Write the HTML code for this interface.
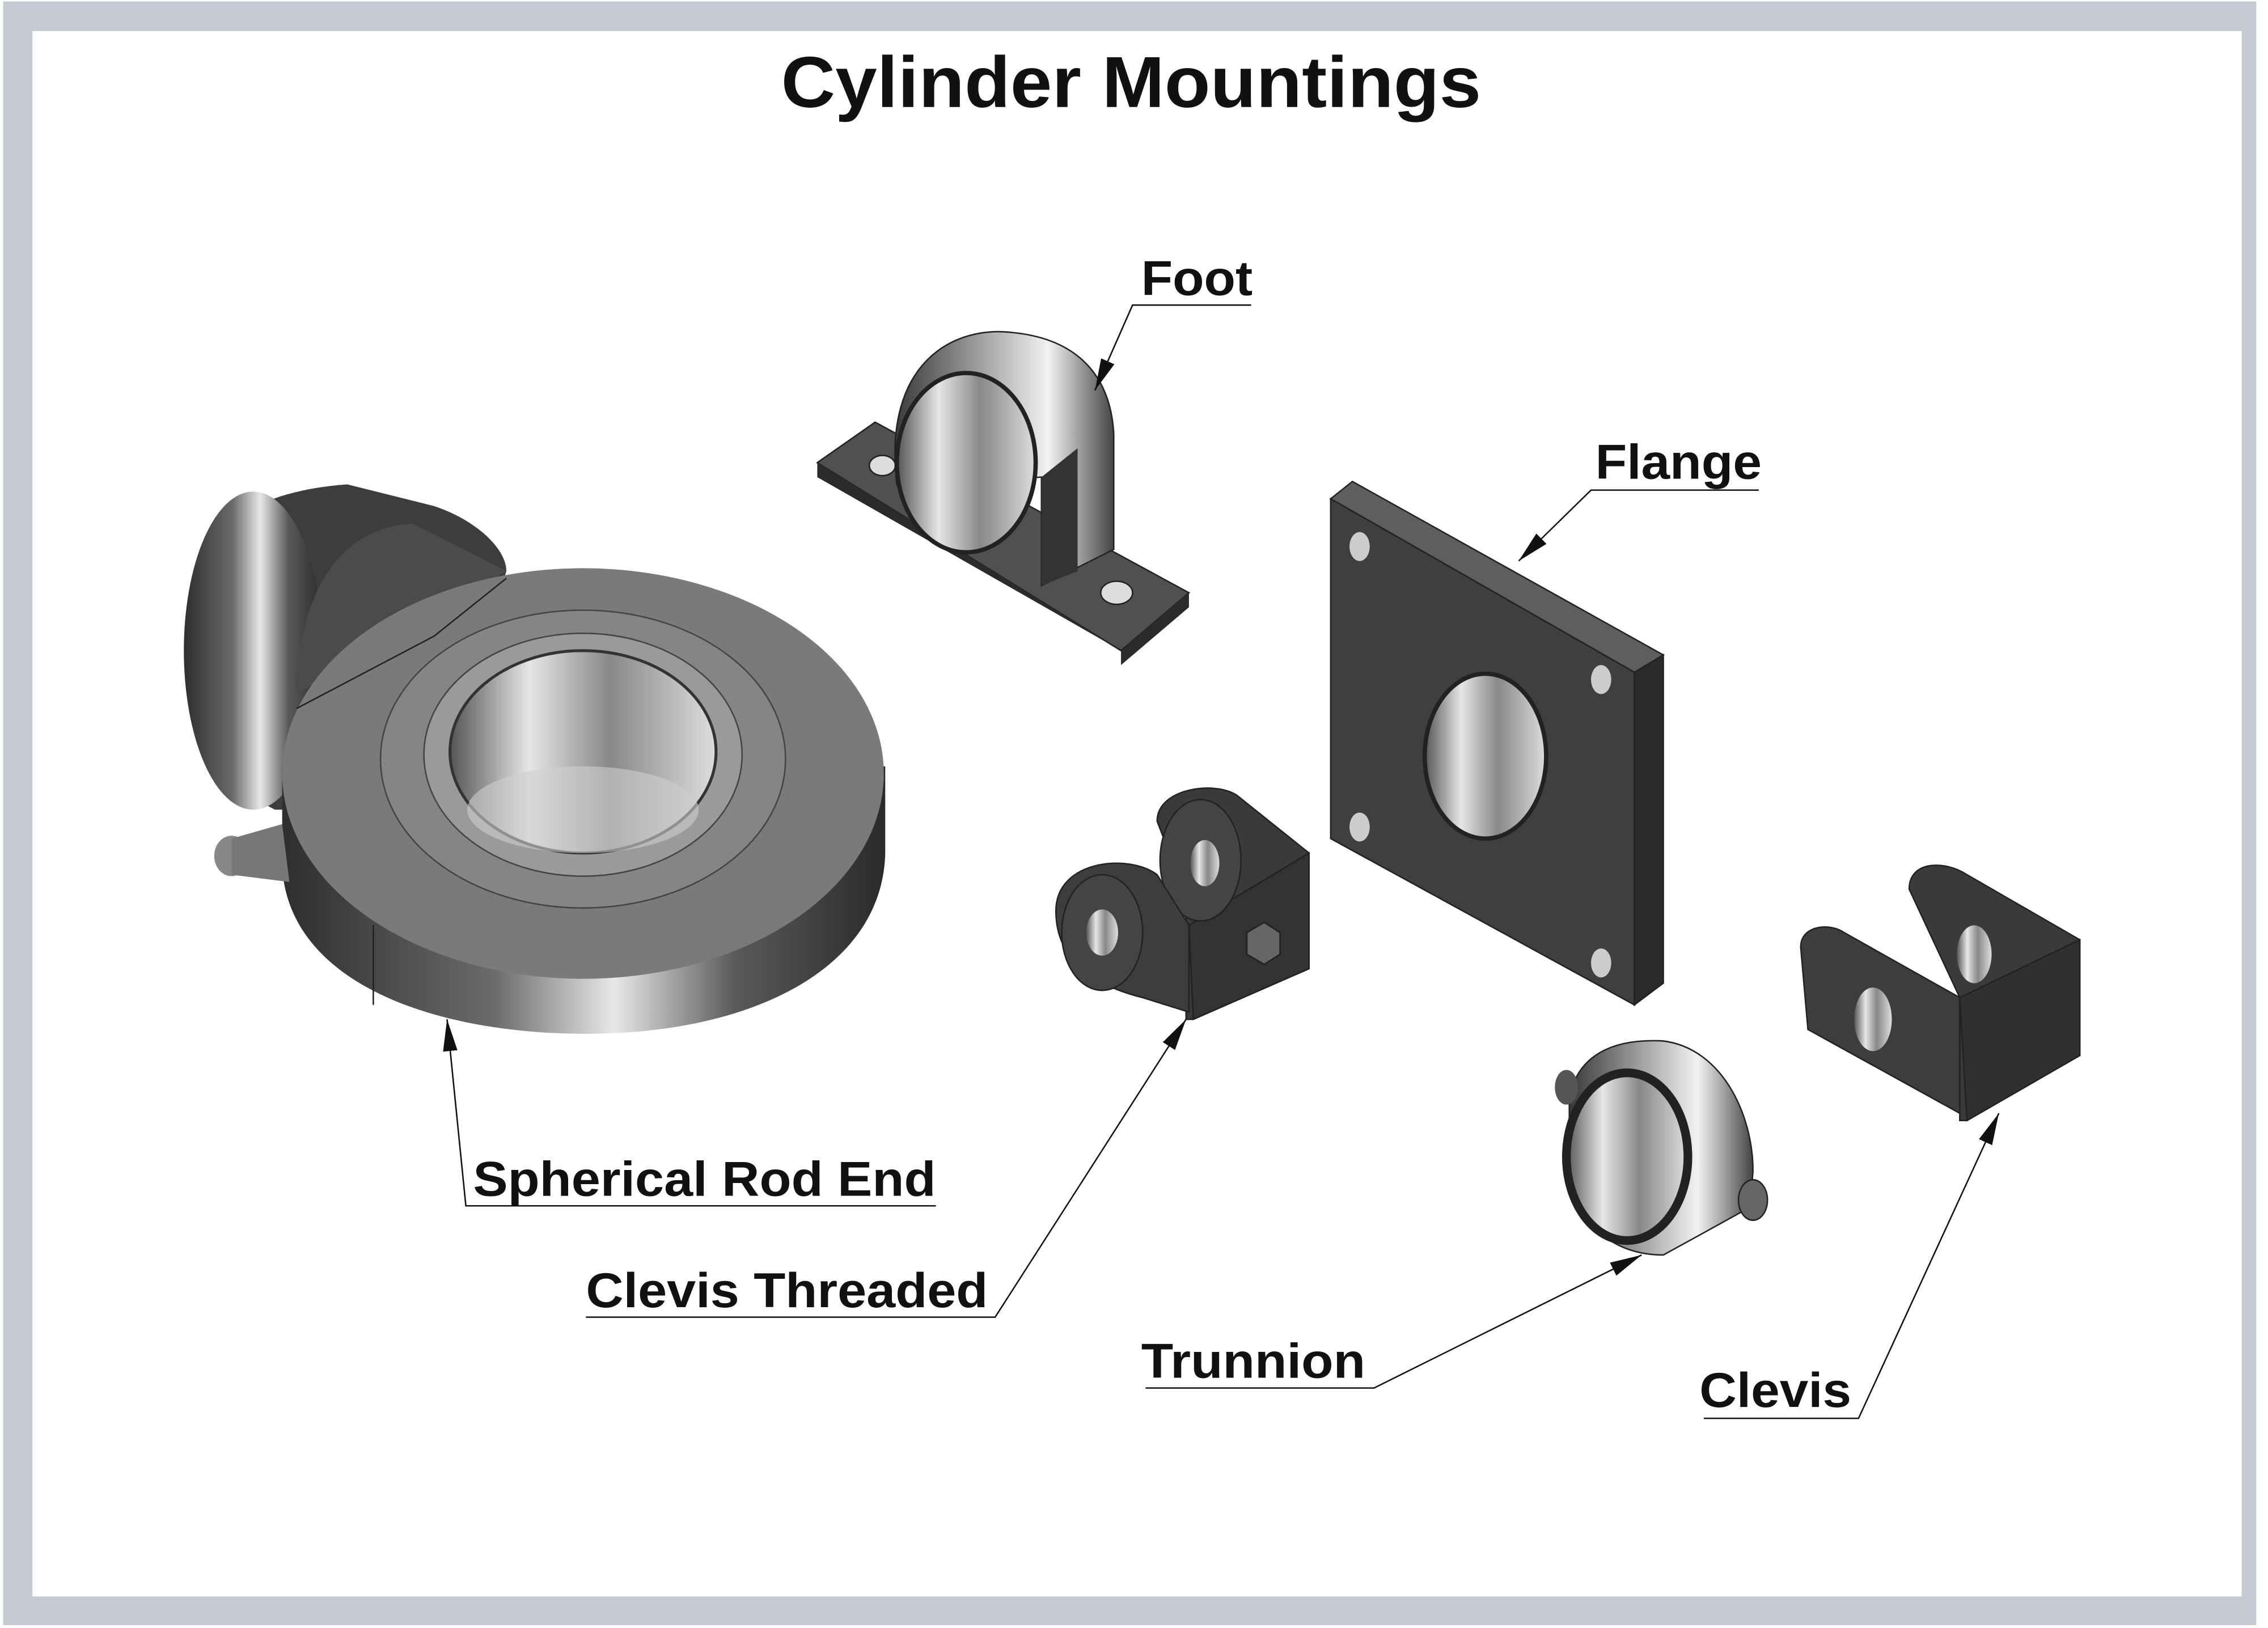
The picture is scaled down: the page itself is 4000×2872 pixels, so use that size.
<!DOCTYPE html>
<html><head><meta charset="utf-8"><style>
html,body{margin:0;padding:0;background:#fff;width:4000px;height:2872px;overflow:hidden}
svg{display:block}
text{font-family:"Liberation Sans",Arial,sans-serif;font-weight:bold;fill:#111}
</style></head><body>
<svg width="4000" height="2872" viewBox="0 0 1568 1126" xmlns="http://www.w3.org/2000/svg">
<defs>
<linearGradient id="metal" x1="0" x2="1" y1="0" y2="0">
<stop offset="0" stop-color="#2e2e2e"/><stop offset=".35" stop-color="#6a6a6a"/><stop offset=".55" stop-color="#e8e8e8"/><stop offset=".75" stop-color="#5a5a5a"/><stop offset="1" stop-color="#2a2a2a"/></linearGradient>
<linearGradient id="metal2" x1="0" x2="1" y1="0" y2="0">
<stop offset="0" stop-color="#3a3a3a"/><stop offset=".5" stop-color="#bdbdbd"/><stop offset=".7" stop-color="#f2f2f2"/><stop offset="1" stop-color="#444"/></linearGradient>
<linearGradient id="bore" x1="0" x2="1">
<stop offset="0" stop-color="#555"/><stop offset=".3" stop-color="#e6e6e6"/><stop offset=".6" stop-color="#888"/><stop offset="1" stop-color="#ddd"/></linearGradient>
<marker id="arb" markerWidth="22" markerHeight="12" refX="22" refY="6" orient="auto" markerUnits="userSpaceOnUse"><path d="M0,1 L22,6 L0,11 z" fill="#111"/></marker>
</defs>
<rect x="2" y="1" width="1558" height="1123" fill="#c6cad4"/>
<rect x="22.3" y="21.5" width="1527.7" height="1082.7" fill="#fff"/>

<text x="540" y="74" font-size="50" textLength="484" lengthAdjust="spacingAndGlyphs">Cylinder Mountings</text>

<g>
<path d="M130,430 C130,370 170,340 240,335 L300,350 C330,360 350,380 350,395 L300,560 L190,560 C150,540 130,500 130,430Z" fill="#3d3d3d"/>
<ellipse cx="175" cy="450" rx="48" ry="110" fill="url(#metal)"/>
<path d="M205,470 C210,400 240,365 285,362 L350,395 L205,480Z" fill="#4b4b4b"/>
<path d="M195,530 L195,600 C200,680 300,715 405,715 C520,715 610,670 612,590 L612,530Z" fill="url(#metal)"/>
<ellipse cx="403" cy="535" rx="208" ry="142" fill="#7a7a7a"/>
<path d="M205,490 L300,440 L350,400" fill="none" stroke="#222" stroke-width="1"/>
<ellipse cx="403" cy="525" rx="140" ry="103" fill="#858585" stroke="#444" stroke-width="1"/>
<ellipse cx="403" cy="522" rx="110" ry="84" fill="#9a9a9a" stroke="#444"/>
<ellipse cx="403" cy="520" rx="92" ry="70" fill="url(#bore)" stroke="#333" stroke-width="2"/>
<ellipse cx="403" cy="560" rx="80" ry="30" fill="#cfcfcf" opacity=".6"/>
<ellipse cx="160" cy="592" rx="12" ry="14" fill="#888"/>
<path d="M160,580 L195,570 L200,610 L160,605Z" fill="#777"/>
<line x1="258" y1="640" x2="258" y2="695" stroke="#222" stroke-width="1"/>
</g>

<g>
<path d="M565,320 L605,292 L822,410 L775,450Z" fill="#505050" stroke="#222"/>
<path d="M565,320 L565,330 L775,450 L775,460 L822,420 L822,410 L775,450Z" fill="#2b2b2b"/>
<ellipse cx="610" cy="322" rx="9" ry="7" fill="#ddd" stroke="#222"/>
<ellipse cx="772" cy="410" rx="11" ry="8" fill="#ddd" stroke="#222"/>
<path d="M620,335 C610,250 660,225 700,230 C750,235 768,265 770,300 L770,380 L720,405 L720,330Z" fill="url(#metal2)" stroke="#222"/>
<ellipse cx="668" cy="320" rx="48" ry="62" fill="url(#bore)" stroke="#222" stroke-width="3"/>
<path d="M720,330 L720,405 L745,395 L745,310Z" fill="#333"/>
</g>

<g>
<path d="M920,345 L935,333 L1150,453 L1130,465Z" fill="#5e5e5e" stroke="#222"/>
<path d="M1130,465 L1150,453 L1150,680 L1130,695Z" fill="#2a2a2a" stroke="#222"/>
<path d="M920,345 L1130,465 L1130,695 L920,580Z" fill="#3f3f3f" stroke="#222"/>
<ellipse cx="1027" cy="523" rx="42" ry="57" fill="url(#bore)" stroke="#222" stroke-width="3"/>
<ellipse cx="940" cy="378" rx="7" ry="10" fill="#ccc"/>
<ellipse cx="1107" cy="470" rx="7" ry="10" fill="#ccc"/>
<ellipse cx="940" cy="572" rx="7" ry="10" fill="#ccc"/>
<ellipse cx="1107" cy="666" rx="7" ry="10" fill="#ccc"/>
</g>

<g>
<path d="M800,568 C800,545 840,540 855,550 L905,590 L905,670 L825,705 L820,705 L820,620Z" fill="#3a3a3a" stroke="#222"/>
<path d="M822,640 L905,590 L905,670 L825,705Z" fill="#333" stroke="#222"/>
<ellipse cx="830" cy="595" rx="28" ry="42" fill="#444" stroke="#222"/>
<ellipse cx="833" cy="597" rx="10" ry="16" fill="url(#bore)"/>
<path d="M730,630 C730,595 780,590 800,605 L822,640 L822,700 L790,690 C750,680 730,660 730,630Z" fill="#3d3d3d" stroke="#222"/>
<ellipse cx="762" cy="645" rx="28" ry="40" fill="#444" stroke="#222"/>
<ellipse cx="762" cy="645" rx="11" ry="16" fill="url(#bore)"/>
<polygon points="862,645 874,638 885,645 885,660 874,667 862,660" fill="#666" stroke="#222"/>
</g>

<g>
<path d="M1320,615 C1320,595 1345,595 1360,605 L1438,650 L1438,730 L1360,775 L1355,775 L1355,690Z" fill="#3a3a3a" stroke="#222"/>
<path d="M1355,690 L1438,650 L1438,730 L1360,775Z" fill="#303030" stroke="#222"/>
<ellipse cx="1365" cy="660" rx="12" ry="20" fill="url(#bore)"/>
<path d="M1245,655 C1245,640 1265,638 1275,645 L1355,690 L1355,770 L1250,712Z" fill="#3d3d3d" stroke="#222"/>
<ellipse cx="1295" cy="705" rx="13" ry="22" fill="url(#bore)"/>
</g>

<g>
<path d="M1085,760 C1090,730 1115,718 1150,720 C1190,725 1212,770 1212,810 L1210,835 L1150,868 C1110,868 1085,840 1085,800Z" fill="url(#metal2)" stroke="#222"/>
<ellipse cx="1125" cy="800" rx="42" ry="58" fill="url(#bore)" stroke="#222" stroke-width="6"/>
<ellipse cx="1083" cy="752" rx="8" ry="12" fill="#555"/>
<ellipse cx="1212" cy="830" rx="10" ry="14" fill="#666" stroke="#222"/>
</g>

<g font-size="34">
<text x="789" y="204" textLength="77" lengthAdjust="spacingAndGlyphs">Foot</text>
<text x="1103" y="331" textLength="115" lengthAdjust="spacingAndGlyphs">Flange</text>
<text x="327" y="827" textLength="320" lengthAdjust="spacingAndGlyphs">Spherical Rod End</text>
<text x="405" y="904" textLength="278" lengthAdjust="spacingAndGlyphs">Clevis Threaded</text>
<text x="789" y="953" textLength="155" lengthAdjust="spacingAndGlyphs">Trunnion</text>
<text x="1175" y="973" textLength="105" lengthAdjust="spacingAndGlyphs">Clevis</text>
</g>
<g stroke="#111" stroke-width="1" fill="none">
<path d="M865,211 L783,211 L757,270" marker-end="url(#arb)"/>
<path d="M1216,339 L1100,339 L1050,388" marker-end="url(#arb)"/>
<path d="M647,834 L322,834 L309,705" marker-end="url(#arb)"/>
<path d="M405,911 L688,911 L820,705" marker-end="url(#arb)"/>
<path d="M792,960 L950,960 L1135,868" marker-end="url(#arb)"/>
<path d="M1178,981 L1285,981 L1382,770" marker-end="url(#arb)"/>
</g>
</svg>
</body></html>
